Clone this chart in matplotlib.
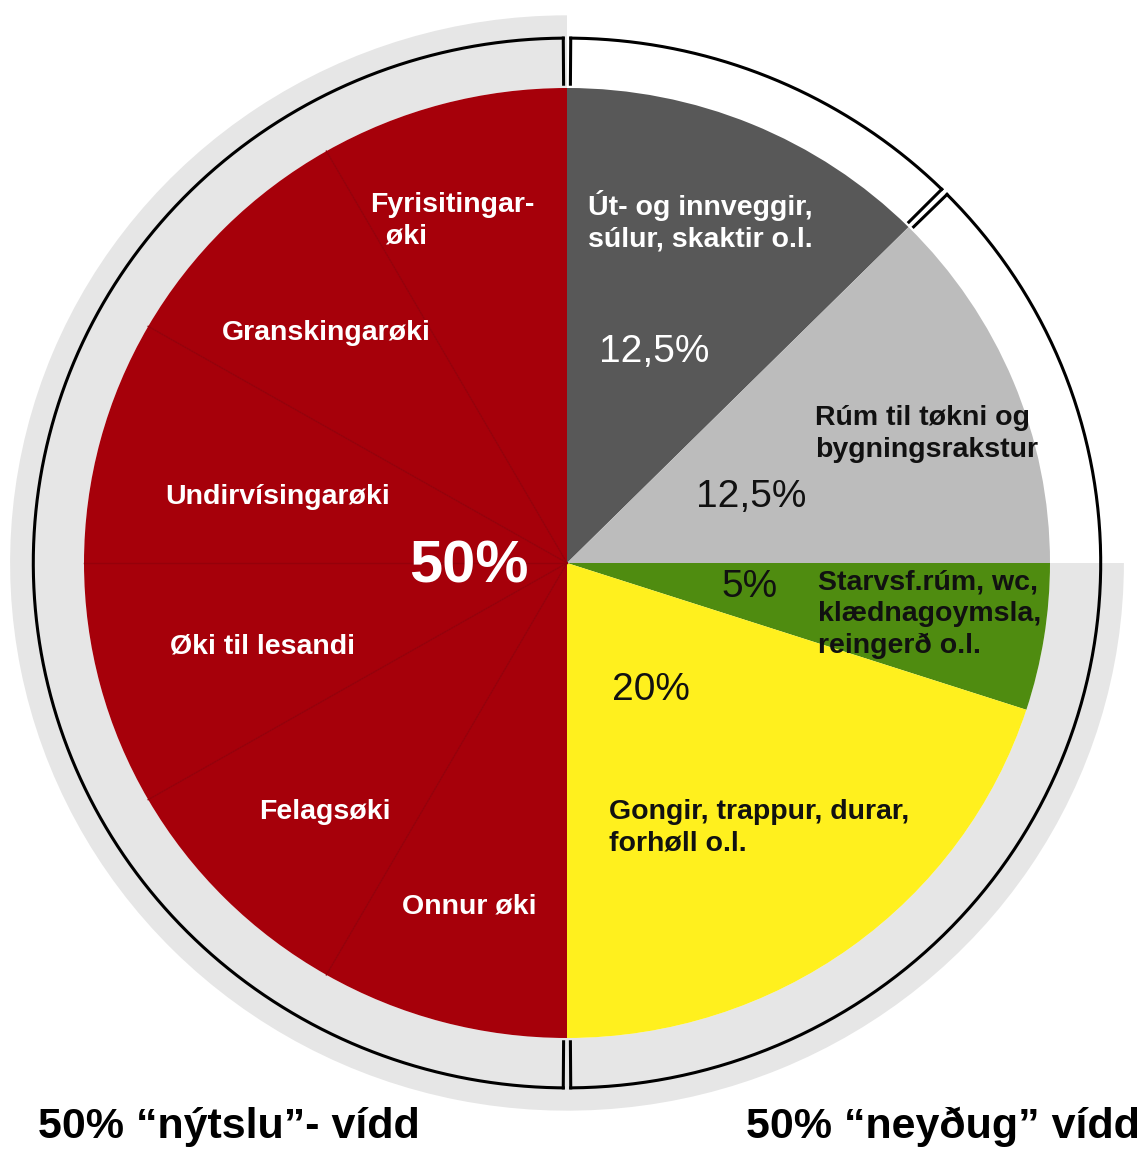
import numpy as np
import matplotlib.pyplot as plt
from matplotlib.patches import Wedge

plt.rcParams['font.family'] = ['Liberation Sans', 'DejaVu Sans']

# right half ("neyðug" vídd), clockwise from 12 o'clock
right_names = ['Út- og innveggir,\nsúlur, skaktir o.l.',
               'Rúm til tøkni og\nbygningsrakstur',
               'Starvsf.rúm, wc,\nklædnagoymsla,\nreingerð o.l.',
               'Gongir, trappur, durar,\nforhøll o.l.']
right_pct = [12.5, 12.5, 5, 20]
right_pct_labels = ['12,5%', '12,5%', '5%', '20%']
right_colors = ['#585858', '#bcbcbc', '#4f8c10', '#fff01e']

# left half ("nýtslu" vídd), clockwise from 6 o'clock
red_names = ['Onnur øki', 'Felagsøki', 'Øki til lesandi', 'Undirvísingarøki',
             'Granskingarøki', 'Fyrisitingar-\n  øki']
red_share = [8.3, 8.4, 8.3, 8.3, 8.4, 8.3]
red_total_label = '50%'

bottom_left = '50% “nýtslu”- vídd'
bottom_right = '50% “neyðug” vídd'

RED = '#a6000a'

# picture geometry (pixels)
W, H = 1145, 1149
CX, CY = 567, 563
RX, RY = 483, 475


def P(x, y):
    return (x - CX) / RX, (CY - y) / RY


fig = plt.figure(figsize=(W / 100, H / 100), dpi=100)
fig.patch.set_facecolor('white')
ax = fig.add_axes([0, 0, 1, 1])

values = right_pct + red_share
colors = right_colors + [RED] * len(red_share)
ax.pie(values, colors=colors, startangle=90, counterclock=False, radius=1,
       wedgeprops=dict(linewidth=0))
ax.set_aspect('auto')
ax.set_xlim(-CX / RX, (W - CX) / RX)
ax.set_ylim((CY - H) / RY, CY / RY)
ax.axis('off')

# grey band round left half and lower right quarter
ax.add_patch(Wedge((0, 0), 1.153, 90, 360, width=0.153, color='#e6e6e6', lw=0, zorder=0))

# faint dividers inside the red half
total = sum(values)
cum = sum(right_pct) + np.cumsum(red_share)[:-1]
for c in cum:
    a = np.radians(90 - 360 * c / total)
    ax.plot([0, np.cos(a)], [0, np.sin(a)], color='#95000a', lw=1.0, zorder=3)

# outer ring with breaks
R_RING, R_IN, g = 1.105, 1.008, 0.4
segs = [(90 + g, 270 - g), (-90 + g, 45 - g), (45 + g, 90 - g)]
for a0, a1 in segs:
    t = np.radians(np.linspace(a0, a1, 300))
    ax.plot(R_RING * np.cos(t), R_RING * np.sin(t), color='black', lw=2.2,
            solid_capstyle='projecting')
for b in [90, 45, -90]:
    for s in (-g, g):
        t = np.radians(b + s)
        ax.plot([R_IN * np.cos(t), R_RING * np.cos(t)],
                [R_IN * np.sin(t), R_RING * np.sin(t)], color='black', lw=2.2,
                solid_capstyle='projecting')

# labels in the red half
red_pos = [(469, 906), (325, 812), (262, 647), (278, 497), (326, 333), (370, 221)]
for name, (x, y) in zip(red_names, red_pos):
    ha = 'left' if '\n' in name else 'center'
    ax.text(*P(x, y), name, color='white', fontsize=20.5, fontweight='bold',
            ha=ha, va='center', linespacing=1.27)
ax.text(*P(469, 567), red_total_label, color='white', fontsize=43,
        fontweight='bold', ha='center', va='center')

# labels in the right half
name_pos = [(588, 221), (815, 434), (818, 614), (609, 828)]
name_col = ['white', '#111111', '#111111', '#111111']
for name, (x, y), c in zip(right_names, name_pos, name_col):
    ax.text(*P(x, y), name, color=c, fontsize=20.5, fontweight='bold',
            ha='left', va='center', linespacing=1.27)
pct_pos = [(654, 352), (751, 497), (750, 587), (651, 690)]
pct_col = ['white', '#111111', '#111111', '#111111']
for lab, (x, y), c in zip(right_pct_labels, pct_pos, pct_col):
    ax.text(*P(x, y), lab, color=c, fontsize=28, ha='center', va='center')

ax.text(*P(38, 1127), bottom_left, fontsize=31, fontweight='bold',
        ha='left', va='center', color='black')
ax.text(*P(1140, 1127), bottom_right, fontsize=31, fontweight='bold',
        ha='right', va='center', color='black')

fig.savefig('out.png', dpi=100, facecolor='white')
